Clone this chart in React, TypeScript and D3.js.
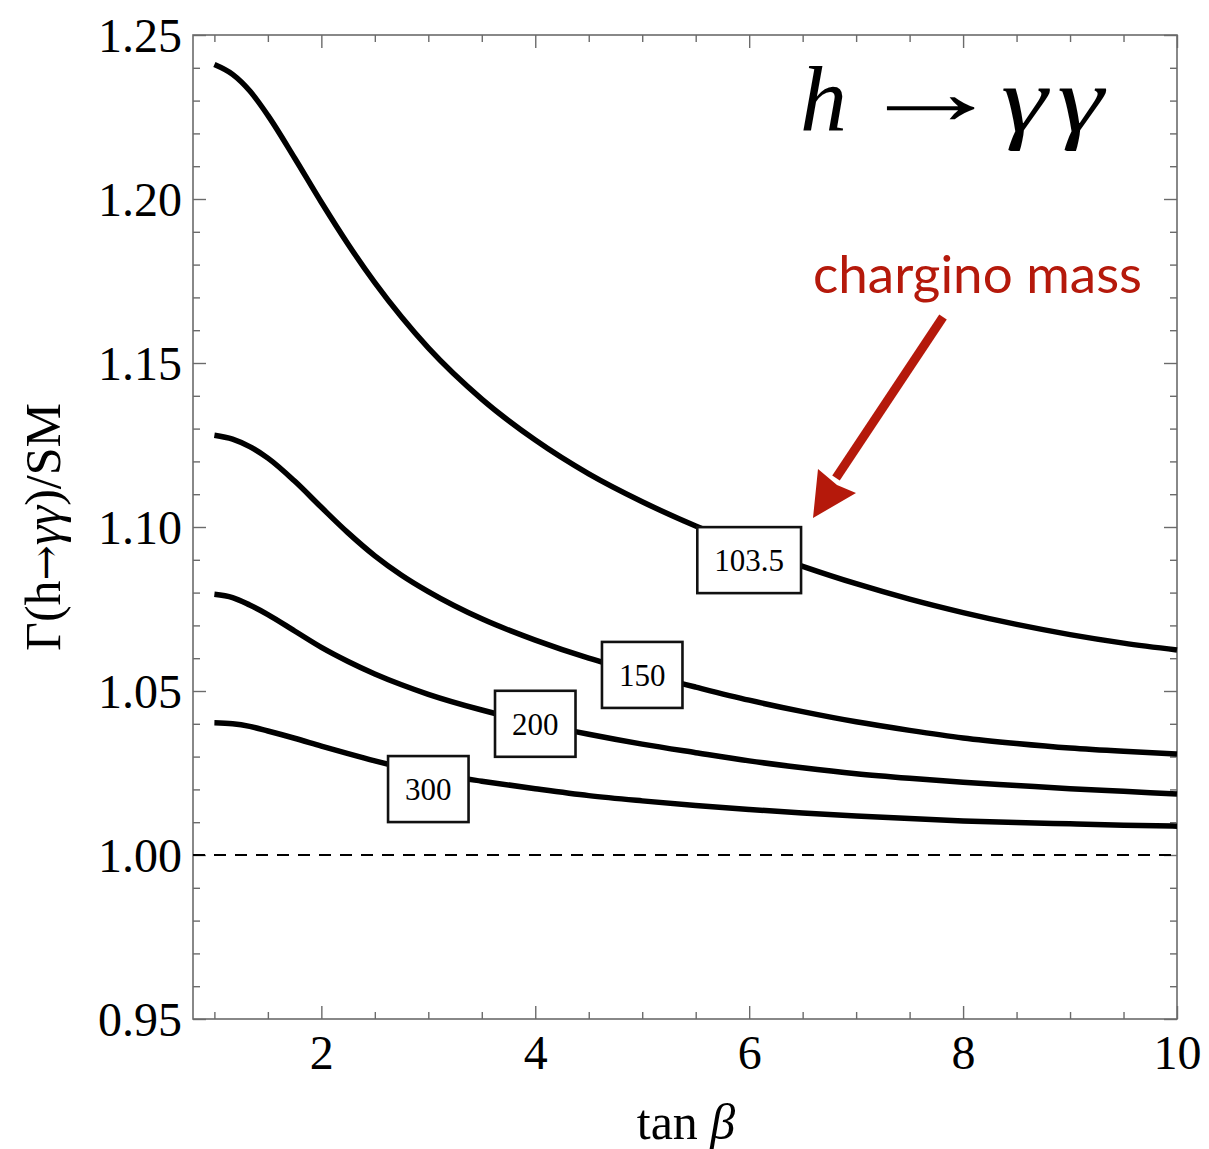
import React, { useRef, useEffect } from "react";
import * as d3 from "d3";

// tan(beta) sample points, shared by all four curves
const tanBeta = [1, 1.17, 1.33, 1.5, 1.75, 2, 2.25, 2.5, 2.75, 3, 3.5, 4, 4.5, 5, 5.5, 6, 6.5, 7, 7.5, 8, 8.5, 9, 9.5, 10];

// Gamma(h->gamma gamma)/SM for each chargino mass
const ratio1035 = [1.241, 1.238, 1.233, 1.2255, 1.2125, 1.199, 1.1862, 1.1745, 1.164, 1.1546, 1.139, 1.1265, 1.1162, 1.1077, 1.1003, 1.0938, 1.088, 1.0827, 1.078, 1.0739, 1.0703, 1.0672, 1.0646, 1.0625];
const ratio150 = [1.128, 1.1268, 1.1245, 1.121, 1.114, 1.106, 1.0982, 1.0912, 1.0853, 1.0803, 1.072, 1.0655, 1.06, 1.0554, 1.0512, 1.0472, 1.0437, 1.0406, 1.038, 1.0357, 1.034, 1.0326, 1.0316, 1.0308];
const ratio200 = [1.0795, 1.0785, 1.0762, 1.0733, 1.0683, 1.0633, 1.059, 1.0552, 1.0519, 1.049, 1.0442, 1.0402, 1.0368, 1.0338, 1.0312, 1.0287, 1.0266, 1.0248, 1.0234, 1.0222, 1.0212, 1.0202, 1.0194, 1.0186];
const ratio300 = [1.0403, 1.04, 1.0392, 1.0378, 1.0356, 1.0332, 1.0309, 1.0287, 1.0267, 1.0251, 1.0225, 1.0202, 1.0181, 1.0165, 1.0151, 1.0139, 1.0128, 1.0119, 1.0111, 1.0104, 1.0099, 1.0095, 1.0091, 1.0088];

const series = [ratio1035, ratio150, ratio200, ratio300];

// contour-style labels
const massLabels = ["103.5", "150", "200", "300"];
const labelTan = [6.0, 5.0, 4.0, 3.0];
const labelRatio = [1.0899, 1.0549, 1.04, 1.0201];

const xMajor = [2, 4, 6, 8, 10];
const xMinor = [1, 1.5, 2.5, 3, 3.5, 4.5, 5, 5.5, 6.5, 7, 7.5, 8.5, 9, 9.5];
const yMajor = [0.95, 1.0, 1.05, 1.1, 1.15, 1.2, 1.25];
const yMinor = d3.range(0.96, 1.25, 0.01).filter((v) => Math.abs(v * 20 - Math.round(v * 20)) > 1e-6);

const App = () => {
  const svgRef = useRef(null);

  useEffect(() => {
    if (!svgRef.current) return;

    const width = 1209;
    const height = 1149;
    const left = 193;
    const right = 1177;
    const top = 35;
    const bottom = 1019;
    const serif = "'Liberation Serif', 'Times New Roman', serif";
    const frameColor = "#6b6b6b";

    const svg = d3.select(svgRef.current).attr("width", width).attr("height", height);
    svg.selectAll("*").remove();

    svg.append("rect").attr("width", width).attr("height", height).attr("fill", "#fff");

    const x = d3.scaleLinear().domain([0.8, 10]).range([left, right]);
    const y = d3.scaleLinear().domain([0.95, 1.25]).range([bottom, top]);

    // axes: major ticks with labels, minor ticks without
    const styleAxis = (g) => {
      g.select(".domain").remove();
      g.selectAll(".tick line").attr("stroke", frameColor).attr("stroke-width", 1.4);
      g.selectAll(".tick text")
        .attr("fill", "#000")
        .style("font-family", serif)
        .style("font-size", "48px");
    };

    svg.append("g")
      .attr("transform", `translate(0,${bottom})`)
      .call(d3.axisBottom(x).tickValues(xMajor).tickSize(-13).tickSizeOuter(0).tickPadding(16).tickFormat(d3.format("d")))
      .call(styleAxis);
    svg.append("g")
      .attr("transform", `translate(0,${bottom})`)
      .call(d3.axisBottom(x).tickValues(xMinor).tickSize(-7).tickSizeOuter(0).tickFormat(() => ""))
      .call(styleAxis);
    svg.append("g")
      .attr("transform", `translate(0,${top})`)
      .call(d3.axisTop(x).tickValues(xMajor).tickSize(-13).tickSizeOuter(0).tickFormat(() => ""))
      .call(styleAxis);
    svg.append("g")
      .attr("transform", `translate(0,${top})`)
      .call(d3.axisTop(x).tickValues(xMinor).tickSize(-7).tickSizeOuter(0).tickFormat(() => ""))
      .call(styleAxis);

    svg.append("g")
      .attr("transform", `translate(${left},0)`)
      .call(d3.axisLeft(y).tickValues(yMajor).tickSize(-13).tickSizeOuter(0).tickPadding(11).tickFormat(d3.format(".2f")))
      .call(styleAxis)
      .call((g) => g.selectAll(".tick text").attr("dy", "0.34em"));
    svg.append("g")
      .attr("transform", `translate(${left},0)`)
      .call(d3.axisLeft(y).tickValues(yMinor).tickSize(-7).tickSizeOuter(0).tickFormat(() => ""))
      .call(styleAxis);
    svg.append("g")
      .attr("transform", `translate(${right},0)`)
      .call(d3.axisRight(y).tickValues(yMajor).tickSize(-13).tickSizeOuter(0).tickFormat(() => ""))
      .call(styleAxis);
    svg.append("g")
      .attr("transform", `translate(${right},0)`)
      .call(d3.axisRight(y).tickValues(yMinor).tickSize(-7).tickSizeOuter(0).tickFormat(() => ""))
      .call(styleAxis);

    // frame
    svg.append("rect")
      .attr("x", left)
      .attr("y", top)
      .attr("width", right - left)
      .attr("height", bottom - top)
      .attr("fill", "none")
      .attr("stroke", frameColor)
      .attr("stroke-width", 1.6);

    // SM reference line
    svg.append("line")
      .attr("x1", x(0.8))
      .attr("x2", x(10))
      .attr("y1", y(1))
      .attr("y2", y(1))
      .attr("stroke", "#000")
      .attr("stroke-width", 1.8)
      .attr("stroke-dasharray", "12,9");

    // curves
    const line = d3
      .line()
      .x((d) => x(d[0]))
      .y((d) => y(d[1]))
      .curve(d3.curveMonotoneX);

    series.forEach((vals) => {
      svg.append("path")
        .datum(tanBeta.map((t, i) => [t, vals[i]]))
        .attr("d", line)
        .attr("fill", "none")
        .attr("stroke", "#000")
        .attr("stroke-width", 5.5)
        .attr("stroke-linejoin", "round");
    });

    // mass labels in boxes
    massLabels.forEach((lab, i) => {
      const cx = x(labelTan[i]);
      const cy = y(labelRatio[i]);
      const g = svg.append("g");
      const rect = g.append("rect");
      const txt = g.append("text")
        .attr("x", cx)
        .attr("y", cy)
        .attr("dy", "0.35em")
        .attr("text-anchor", "middle")
        .style("font-family", serif)
        .style("font-size", "31px")
        .text(lab);
      const w = txt.node().getComputedTextLength() + 34;
      const h = 66;
      rect.attr("x", cx - w / 2)
        .attr("y", cy - h / 2)
        .attr("width", w)
        .attr("height", h)
        .attr("fill", "#fff")
        .attr("stroke", "#111")
        .attr("stroke-width", 2.6);
    });

    // axis titles
    svg.append("text")
      .attr("x", 686)
      .attr("y", 1139)
      .attr("text-anchor", "middle")
      .style("font-family", serif)
      .style("font-size", "50px")
      .call((t) => {
        t.append("tspan").text("tan ");
        t.append("tspan").style("font-style", "italic").text("β");
      });

    svg.append("text")
      .attr("transform", "translate(60,527) rotate(-90)")
      .attr("text-anchor", "middle")
      .style("font-family", serif)
      .style("font-size", "50px")
      .call((t) => {
        t.append("tspan").text("Γ(h");
        t.append("tspan").style("font-family", "'DejaVu Serif', serif").style("font-size", "42px").text("→");
        t.append("tspan").style("font-style", "italic").text("γγ");
        t.append("tspan").text(")/SM");
      });

    // process title
    const title = svg.append("g").style("font-family", serif).style("font-size", "94px");
    title.append("text")
      .attr("x", 800)
      .attr("y", 131)
      .style("font-style", "italic")
      .text("h");
    title.append("text")
      .attr("transform", "translate(857,124) scale(1.57,1)")
      .style("font-size", "94px")
      .text("→");
    title.append("text")
      .attr("transform", "translate(1001,131) scale(1.25,1)")
      .style("font-style", "italic")
      .style("font-size", "94px")
      .style("letter-spacing", "8px")
      .text("γγ");

    // annotation
    const red = "#b5190b";
    svg.append("text")
      .attr("x", 813)
      .attr("y", 293)
      .attr("textLength", 329)
      .attr("lengthAdjust", "spacingAndGlyphs")
      .style("font-family", "Lato, 'Open Sans', sans-serif")
      .style("font-size", "52px")
      .attr("fill", red)
      .text("chargino mass");

    svg.append("line")
      .attr("x1", 943)
      .attr("y1", 317)
      .attr("x2", 836)
      .attr("y2", 478)
      .attr("stroke", red)
      .attr("stroke-width", 9);
    svg.append("path")
      .attr("d", "M813,518 L818,469 L837,485 L856,493 Z")
      .attr("fill", red);
  }, []);

  return <svg ref={svgRef} style={{ position: "absolute", left: 0, top: 0, display: "block" }}></svg>;
};

export default App;
